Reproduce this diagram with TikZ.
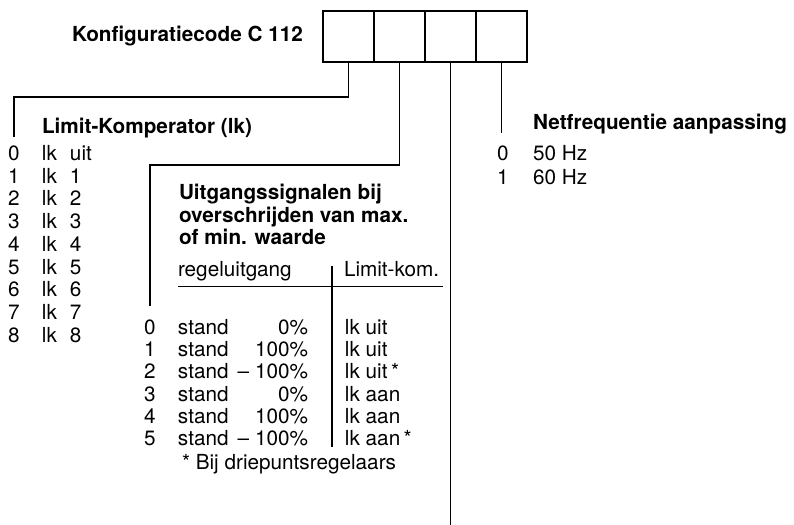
\documentclass[tikz,border=0pt]{standalone}
\usepackage{fontspec}
\setmainfont{TeX Gyre Heros}
\begin{document}
\begin{tikzpicture}[x=1bp,y=-1bp,
  every node/.style={inner sep=0pt,outer sep=0pt,font=\fontsize{20.8}{24}\selectfont},
  cell/.style={draw,line width=1.8bp,minimum size=51bp},
  txt/.style={anchor=base west},
  head/.style={anchor=base west,font=\fontsize{20.8}{24}\selectfont\bfseries},
  wire/.style={line width=1.8bp}]
\useasboundingbox (0,0) rectangle (794,525);

\node[head] (title) at (72,42) {Konfiguratiecode C 112};
\node[cell] (b1) at (348.5,36.5) {};
\node[cell] (b2) at (399.5,36.5) {};
\node[cell] (b3) at (450.5,36.5) {};
\node[cell] (b4) at (501.5,36.5) {};

\coordinate (e1) at (14,137);
\coordinate (e2) at (150,306);
\coordinate (e3) at (450.5,525);
\coordinate (e4) at (501.5,133);
\draw[wire] (b1.south) -- ++(0,35) -| (e1);
\draw[wire] (b2.south) -- ++(0,103) -| (e2);
\draw[wire] (b3.south) -- (e3);
\draw[wire] (b4.south) -- (e4);

\node[head] (lkhead) at (42,134) {Limit-Komperator (lk)};
\node[txt] (lk0) at (8,160.5) {\makebox[34bp][l]{0}\makebox[28bp][l]{lk}uit};
\node[txt] (lk1) at (8,183.25) {\makebox[34bp][l]{1}\makebox[28bp][l]{lk}1};
\node[txt] (lk2) at (8,206) {\makebox[34bp][l]{2}\makebox[28bp][l]{lk}2};
\node[txt] (lk3) at (8,228.75) {\makebox[34bp][l]{3}\makebox[28bp][l]{lk}3};
\node[txt] (lk4) at (8,251.5) {\makebox[34bp][l]{4}\makebox[28bp][l]{lk}4};
\node[txt] (lk5) at (8,274.25) {\makebox[34bp][l]{5}\makebox[28bp][l]{lk}5};
\node[txt] (lk6) at (8,297) {\makebox[34bp][l]{6}\makebox[28bp][l]{lk}6};
\node[txt] (lk7) at (8,319.75) {\makebox[34bp][l]{7}\makebox[28bp][l]{lk}7};
\node[txt] (lk8) at (8,342.5) {\makebox[34bp][l]{8}\makebox[28bp][l]{lk}8};

\node[head] (nfhead) at (533,129.5) {Netfrequentie aanpassing};
\node[txt] (nf0) at (497,160.5) {\makebox[36bp][l]{0}50 Hz};
\node[txt] (nf1) at (497,184.5) {\makebox[36bp][l]{1}60 Hz};

\node[head] (ua) at (179,200) {Uitgangssignalen bij};
\node[head] (ub) at (179,223) {overschrijden van max.};
\node[head] (uc) at (179,245) {of min. waarde};
\node[txt] (regel) at (178,277) {regeluitgang};
\node[txt] (limkom) at (344,277) {Limit-kom.};
\draw[line width=1.5bp] (178,286.5) -- (443,286.5);
\draw[line width=1.5bp] (332,266) -- (332,447);

\node[txt] (st0) at (144,334.5) {\makebox[34bp][l]{0}\makebox[130bp][l]{stand\hfill 0\%}\hspace{37bp}lk uit};
\node[txt] (st1) at (144,356.7) {\makebox[34bp][l]{1}\makebox[130bp][l]{stand\hfill 100\%}\hspace{37bp}lk uit};
\node[txt] (st2) at (144,378.9) {\makebox[34bp][l]{2}\makebox[130bp][l]{stand\hfill -- 100\%}\hspace{37bp}lk uit\,*};
\node[txt] (st3) at (144,401.1) {\makebox[34bp][l]{3}\makebox[130bp][l]{stand\hfill 0\%}\hspace{37bp}lk aan};
\node[txt] (st4) at (144,423.3) {\makebox[34bp][l]{4}\makebox[130bp][l]{stand\hfill 100\%}\hspace{37bp}lk aan};
\node[txt] (st5) at (144,445.5) {\makebox[34bp][l]{5}\makebox[130bp][l]{stand\hfill -- 100\%}\hspace{37bp}lk aan\,*};
\node[txt] (foot) at (182,469) {* Bij driepuntsregelaars};
\end{tikzpicture}
\end{document}
